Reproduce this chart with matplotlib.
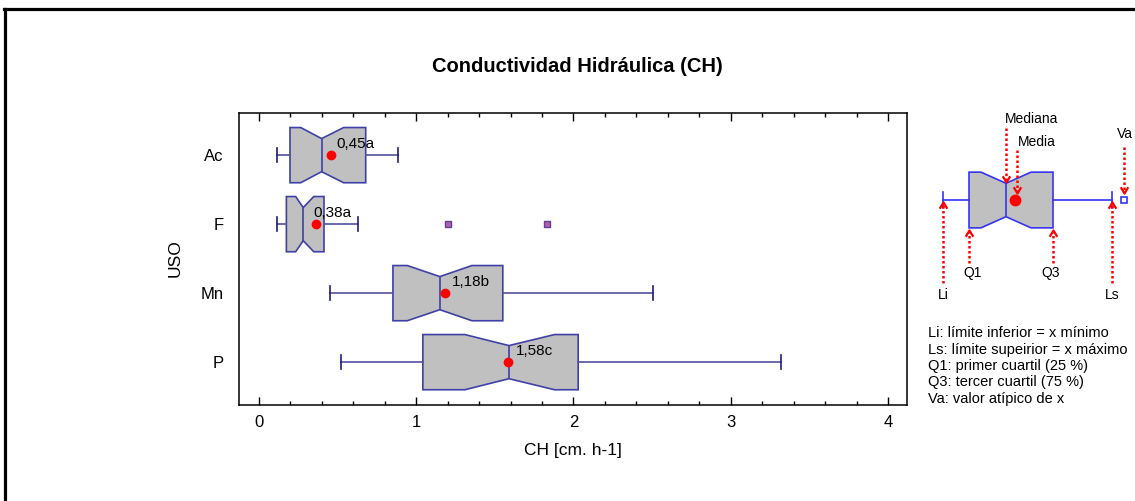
import matplotlib
matplotlib.use('Agg')
import matplotlib.pyplot as plt
from matplotlib.lines import Line2D
from matplotlib.path import Path
from matplotlib.ticker import MultipleLocator
import numpy as np

plt.rcParams['font.family'] = ['Liberation Sans', 'DejaVu Sans']

# ---------------- data ----------------
categories = ['Ac', 'F', 'Mn', 'P']
whis_low = [0.114, 0.114, 0.453, 0.52]
q1 = [0.199, 0.176, 0.853, 1.043]
median = [0.40, 0.283, 1.151, 1.59]
q3 = [0.68, 0.415, 1.551, 2.03]
whis_high = [0.885, 0.63, 2.506, 3.32]
notch_low = [0.267, 0.235, 0.944, 1.31]
notch_high = [0.54, 0.35, 1.355, 1.88]
means = [0.46, 0.366, 1.181, 1.585]
outliers = [[], [1.20, 1.83], [], []]
mean_labels = ['0,45a', '0,38a', '1,18b', '1,58c']
xticks = [0, 1, 2, 3, 4]

legend_lines = ['Li: límite inferior = x mínimo',
                'Ls: límite supeirior = x máximo',
                'Q1: primer cuartil (25 %)',
                'Q3: tercer cuartil (75 %)',
                'Va: valor atípico de x']

W, H = 1135, 501
fig = plt.figure(figsize=(W / 100, H / 100), dpi=100)

# outer frame (top and left only)
fig.add_artist(Line2D([4 / W, 1], [1 - 9 / H, 1 - 9 / H], transform=fig.transFigure, color='black', lw=2.3))
fig.add_artist(Line2D([5 / W, 5 / W], [0, 1 - 9 / H], transform=fig.transFigure, color='black', lw=2.3))


def draw_box(axis, stat_list, **kw):
    try:
        res = axis.bxp(stat_list, orientation='horizontal', **kw)
    except TypeError:
        res = axis.bxp(stat_list, vert=False, **kw)
    # make the notch a little shallower (inner half-height = 0.30 * width)
    widths = kw['widths']
    for k, (box, med_line) in enumerate(zip(res['boxes'], res['medians'])):
        pos = kw['positions'][k]
        w = widths if np.isscalar(widths) else widths[k]
        medv = stat_list[k]['med']
        path = box.get_path()
        v = path.vertices.copy()
        sel = np.isclose(v[:, 0], medv)
        v[sel, 1] = pos + np.sign(v[sel, 1] - pos) * 0.30 * w
        box.set_path(Path(v, path.codes))
        med_line.set_ydata([pos - 0.30 * w, pos + 0.30 * w])
    return res


# ---------------- main axes ----------------
ax = fig.add_axes([239 / W, 1 - 405 / H, (907 - 239) / W, (405 - 112.7) / H])
positions = [4, 3, 2, 1]
stats = []
for i, c in enumerate(categories):
    stats.append(dict(label=c, whislo=whis_low[i], q1=q1[i], med=median[i], q3=q3[i],
                      whishi=whis_high[i], cilo=notch_low[i], cihi=notch_high[i],
                      mean=means[i], fliers=np.array(outliers[i])))

draw_box(ax, stats, positions=positions, widths=0.8, capwidths=0.2, shownotches=True,
         showmeans=True, patch_artist=True,
         boxprops=dict(facecolor='#C0C0C0', edgecolor='#4040A8', linewidth=1.2),
         whiskerprops=dict(color='#5252A0', linewidth=1.2),
         capprops=dict(color='#1E1E70', linewidth=1.2),
         medianprops=dict(color='#4040A8', linewidth=1.2),
         meanprops=dict(marker='o', markerfacecolor='red', markeredgecolor='red', markersize=6),
         flierprops=dict(marker='s', markerfacecolor='#B060B0', markeredgecolor='#604090', markersize=4))

ax.set_xlim(-0.125, 4.119)
ax.set_ylim(0.379, 4.615)
ax.set_yticks(positions, categories)
ax.set_xticks(xticks, [str(t) for t in xticks])
ax.xaxis.set_minor_locator(MultipleLocator(0.2))
ax.tick_params(axis='x', which='both', direction='in', top=True, bottom=True, labelsize=12, pad=7, colors='black')
ax.tick_params(axis='x', which='major', length=6, width=1)
ax.tick_params(axis='x', which='minor', length=3, width=1)
ax.tick_params(axis='y', length=0, pad=11, labelsize=12)
for s in ax.spines.values():
    s.set_color('black')
    s.set_linewidth(1.1)

ax.set_xlabel('CH [cm. h-1]', fontsize=12.5)
ax.xaxis.set_label_coords(0.5, (405 - 443) / 292.3)
ax.set_ylabel('USO', fontsize=12.5)
ax.yaxis.set_label_coords((183 - 239) / 668, 0.503)

label_dx = [3.6, -2.2, 5.0, 5.8]
for i in range(len(categories)):
    ax.annotate(mean_labels[i], (means[i], positions[i]), xytext=(label_dx[i], 8.3),
                textcoords='offset points', ha='left', va='center', fontsize=11)

fig.text(577 / W, 1 - 66.7 / H, 'Conductividad Hidráulica (CH)', ha='center', va='center',
         fontsize=14.5, fontweight='bold')

# ---------------- schematic legend ----------------
ax2 = fig.add_axes([915 / W, 1 - 420 / H, 220 / W, 320 / H])
ex_li, ex_q1, ex_med, ex_q3, ex_ls = 943, 969, 1006, 1053, 1112
ex_cilo, ex_cihi, ex_mean, ex_va = 981, 1031, 1015, 1124
ex_stats = [dict(whislo=ex_li, q1=ex_q1, med=ex_med, q3=ex_q3, whishi=ex_ls, cilo=ex_cilo,
                 cihi=ex_cihi, mean=ex_mean, fliers=np.array([ex_va]))]
blue = '#3535F0'
draw_box(ax2, ex_stats, positions=[200], widths=55.7, capwidths=16, shownotches=True, showmeans=True,
         patch_artist=True,
         boxprops=dict(facecolor='#C0C0C0', edgecolor=blue, linewidth=1.2),
         whiskerprops=dict(color=blue, linewidth=1.2),
         capprops=dict(color=blue, linewidth=1.2),
         medianprops=dict(color=blue, linewidth=1.2),
         meanprops=dict(marker='o', markerfacecolor='red', markeredgecolor='red', markersize=7.5),
         flierprops=dict(marker='s', markerfacecolor='white', markeredgecolor=blue, markersize=4, markeredgewidth=1.2))
ax2.set_xlim(915, 1135)
ax2.set_ylim(420, 100)
ax2.axis('off')

up = Path([(-0.6, -1), (0, 0), (0.6, -1)], [Path.MOVETO, Path.LINETO, Path.LINETO])
down = Path([(-0.6, 1), (0, 0), (0.6, 1)], [Path.MOVETO, Path.LINETO, Path.LINETO])


def arrow(x, y0, ytip, marker):
    ax2.plot([x, x], [y0, ytip], color='red', lw=1.8, linestyle=(0, (1, 1)), clip_on=False)
    ax2.plot([x], [ytip], marker=marker, markersize=9, markerfacecolor='none',
             markeredgecolor='red', markeredgewidth=1.6, clip_on=False, linestyle='none')


arrow(ex_li, 283, 201.5, up)
arrow(ex_q1, 263, 230, up)
arrow(ex_q3, 263, 230, up)
arrow(ex_ls, 283, 201.5, up)
arrow(ex_med, 128, 181.5, down)
arrow(1016.5, 150, 193, down)
arrow(ex_va, 147, 193, down)

lab_kw = dict(ha='center', va='center', fontsize=10, clip_on=False)
ax2.text(943, 295, 'Li', **lab_kw)
ax2.text(973, 273, 'Q1', **lab_kw)
ax2.text(1051, 273, 'Q3', **lab_kw)
ax2.text(1112, 295, 'Ls', **lab_kw)
ax2.text(1032, 119, 'Mediana', **lab_kw)
ax2.text(1036.5, 142, 'Media', **lab_kw)
ax2.text(1125, 134, 'Va', **lab_kw)

for i, line in enumerate(legend_lines):
    ax2.text(928, 333.3 + i * 16.3, line, ha='left', va='center', fontsize=10.5, clip_on=False)

fig.savefig('out.png', dpi=100)
